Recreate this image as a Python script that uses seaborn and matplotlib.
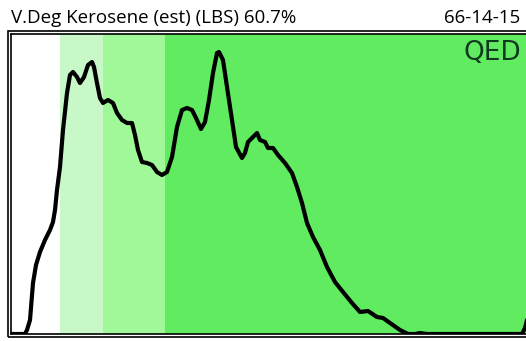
import matplotlib
matplotlib.use("Agg")
import matplotlib.pyplot as plt
import seaborn as sns
import pandas as pd
from matplotlib.patches import Rectangle

# ---- data ----
title_left = "V.Deg Kerosene (est) (LBS) 60.7%"
title_right = "66-14-15"
logo_text = "QED"

# band edges (x units) and colours
band_edges = [11, 60, 103, 165, 540]
band_colors = ["#ffffff", "#c8f8c8", "#a0f898", "#60eb60"]

curve_x = [11, 20, 25, 27, 30, 33, 36, 40, 45, 50, 53, 55, 57, 60, 63, 67, 70, 73, 77, 80,
           84, 88, 92, 94, 97, 100, 103, 108, 113, 117, 122, 127, 132, 135, 138, 142,
           147, 152, 157, 162, 167, 172, 177, 182, 187, 192, 196, 201, 205, 209, 213,
           217, 219, 223, 227, 232, 236, 242, 245, 248, 253, 257, 260, 265, 268, 273,
           278, 285, 292, 297, 302, 307, 313, 320, 327, 335, 343, 352, 360, 368, 377,
           383, 390, 400, 408, 415, 420, 427, 522, 525, 527]
curve_y = [0, 0, 0, 4, 14, 51, 69, 82, 94, 104, 112, 124, 144, 167, 204, 241, 259, 262, 257, 251,
           257, 269, 272, 267, 251, 236, 231, 234, 231, 221, 214, 211, 211, 199, 184, 172,
           171, 169, 162, 159, 162, 177, 207, 224, 226, 224, 216, 205, 212, 234, 261,
           281, 282, 274, 247, 214, 187, 176, 181, 192, 197, 201, 194, 192, 186, 186,
           179, 171, 161, 147, 131, 111, 97, 84, 67, 52, 42, 31, 22, 23, 17,
           16, 11, 4, 0, 0, 1, 0, 0, 6, 14]

df = pd.DataFrame({"x": curve_x, "y": curve_y})

W, H = 526, 341
fig = plt.figure(figsize=(W / 100, H / 100), dpi=100)

# axes: inner frame left 11, top 34, bottom 334, right beyond figure
ax_left, ax_right, ax_top, ax_bot = 11, 540, 34, 334
ax = fig.add_axes([ax_left / W, 1 - ax_bot / H, (ax_right - ax_left) / W, (ax_bot - ax_top) / H])

for i, c in enumerate(band_colors):
    ax.axvspan(band_edges[i], band_edges[i + 1], color=c, lw=0, zorder=0)

sns.lineplot(data=df, x="x", y="y", ax=ax, color="black", linewidth=3.0, zorder=3,
             solid_joinstyle="round", solid_capstyle="round")
ax.set_xlim(ax_left, ax_right)
ax.set_ylim(0, ax_bot - ax_top)
ax.set_xticks([])
ax.set_yticks([])
ax.set_xlabel("")
ax.set_ylabel("")
for s in ax.spines.values():
    s.set_linewidth(1.2)
    s.set_color("black")

# outer border of double frame
fig.patches.append(Rectangle((8 / W, 1 - 337 / H), (545 - 8) / W, (337 - 31) / H,
                             transform=fig.transFigure, fill=False, lw=1.2,
                             edgecolor="black", zorder=10))

fig.text(11 / W, 1 - 18 / H, title_left, ha="left", va="center",
         fontsize=13.5, family="Open Sans", color="black")
fig.text(520 / W, 1 - 18 / H, title_right, ha="right", va="center",
         fontsize=13.5, family="Open Sans", color="black")

fig.text(521 / W, 1 - 53 / H, logo_text, ha="right", va="center",
         fontsize=19, family="DejaVu Sans", color="#103a20",
         fontstretch="expanded")

fig.savefig("out.png", dpi=100)
